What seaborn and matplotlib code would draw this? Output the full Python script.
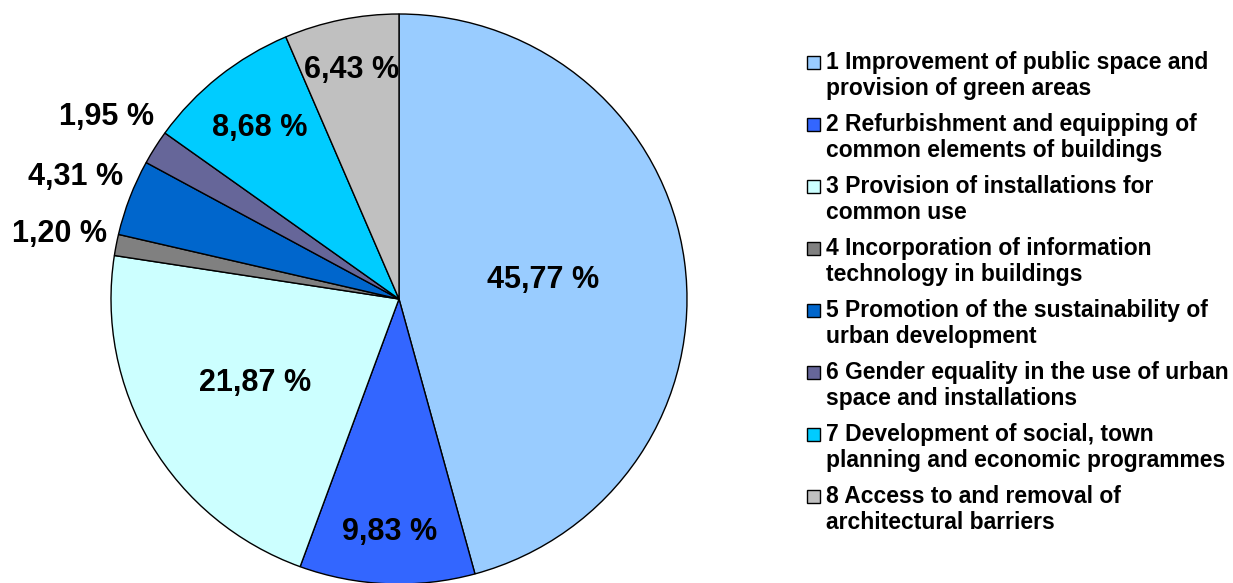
import numpy as np
import matplotlib
matplotlib.use("Agg")
import matplotlib.pyplot as plt
from matplotlib.patches import Rectangle
import seaborn as sns

# datos del grafico
categories = [
    "1 Improvement of public space and\nprovision of green areas",
    "2 Refurbishment and equipping of\ncommon elements of buildings",
    "3 Provision of installations for\ncommon use",
    "4 Incorporation of information\ntechnology in buildings",
    "5 Promotion of the sustainability of\nurban development",
    "6 Gender equality in the use of urban\nspace and installations",
    "7 Development of social, town\nplanning and economic programmes",
    "8 Access to and removal of\narchitectural barriers",
]
values = [45.77, 9.83, 21.87, 1.20, 4.31, 1.95, 8.68, 6.43]
colors = ["#99CCFF", "#3366FF", "#CCFFFF", "#808080",
          "#0066CC", "#666699", "#00CCFF", "#C0C0C0"]

# distancia de cada etiqueta al centro (en radios)
label_r = [0.505, 0.82, 0.58, 1.2, 1.2, 1.2, 0.77, 0.82]

sns.set_style("white")
plt.rcParams['font.family'] = ['Liberation Sans', 'DejaVu Sans']
plt.rcParams['font.weight'] = 'bold'
plt.rcParams['text.color'] = 'black'

W, H = 1233, 583
fig = plt.figure(figsize=(W / 100, H / 100), dpi=100)

# eje de la torta (levemente eliptica como en la imagen)
cx, cy, Rx, Ry = 399, 299, 288, 285
ax = fig.add_axes([(cx - Rx) / W, (H - cy - Ry) / H, 2 * Rx / W, 2 * Ry / H])
wedges, _ = ax.pie(values, colors=colors, startangle=90, counterclock=False,
                   wedgeprops=dict(edgecolor="black", linewidth=1.0))
ax.set_xlim(-1, 1)
ax.set_ylim(-1, 1)
ax.set_aspect("auto")
ax.axis("off")

# etiquetas con coma decimal
for w, v, r in zip(wedges, values, label_r):
    ang = np.deg2rad((w.theta1 + w.theta2) / 2)
    txt = f"{v:.2f}".replace(".", ",") + " %"
    ax.text(r * np.cos(ang), r * np.sin(ang), txt, ha="center", va="center",
            fontsize=22, fontweight="bold", color="black", clip_on=False)

# leyenda manual (cuadro alineado con la primera linea)
lx, ly0, step = 826, 51, 62
box = 13
for i, (lab, col) in enumerate(zip(categories, colors)):
    y = ly0 + i * step
    fig.text(lx / W, 1 - y / H, lab, ha="left", va="top", fontsize=16.5,
             fontweight="bold", linespacing=1.18, color="black")
    fig.add_artist(Rectangle(((lx - 19) / W, 1 - (y + 5 + box) / H), box / W, box / H,
                             transform=fig.transFigure, facecolor=col,
                             edgecolor="black", linewidth=1.0))

fig.savefig("out.png", dpi=100)
